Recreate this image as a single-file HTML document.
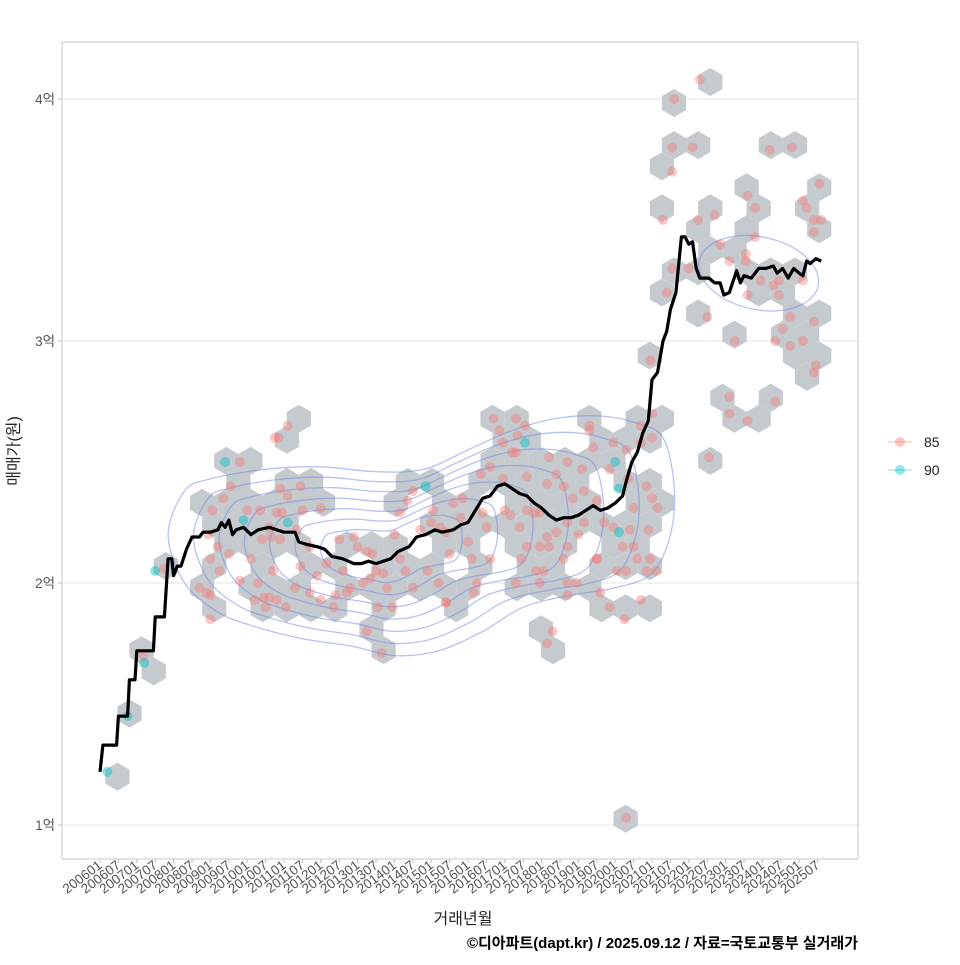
<!DOCTYPE html>
<html><head><meta charset="utf-8">
<style>
html,body{margin:0;padding:0;background:#fff;}
svg text{font-family:"Liberation Sans","Noto Sans CJK KR",sans-serif;}
</style></head>
<body>
<svg id="chart" width="960" height="960" xmlns="http://www.w3.org/2000/svg">
<rect x="0" y="0" width="960" height="960" fill="#fff"/>
<g id="grid"></g>
<g id="hexes"></g>
<g id="contours"></g>
<g id="points"></g>
<g id="line"></g>
<rect x="62" y="42" width="796" height="817" fill="none" stroke="#c8c8c8" stroke-width="1"/>
<g id="axes"></g>
<text transform="translate(19,451) rotate(-90)" text-anchor="middle" font-size="16" fill="#222">매매가(원)</text>
<text x="463" y="924" text-anchor="middle" font-size="16" fill="#222">거래년월</text>
<text x="858" y="948" text-anchor="end" font-size="15" font-weight="bold" fill="#000">©디아파트(dapt.kr) / 2025.09.12 / 자료=국토교통부 실거래가</text>
<g>
  <g>
    <line x1="888" y1="442" x2="912" y2="442" stroke="#F8766D" stroke-opacity="0.35" stroke-width="1.5"/>
    <circle cx="900" cy="442" r="5" fill="#F8766D" fill-opacity="0.4"/>
    <text x="924" y="447" font-size="14" fill="#222">85</text>
  </g>
  <g>
    <line x1="888" y1="470" x2="912" y2="470" stroke="#00BFC4" stroke-opacity="0.35" stroke-width="1.5"/>
    <circle cx="900" cy="470" r="5" fill="#00BFC4" fill-opacity="0.4"/>
    <text x="924" y="475" font-size="14" fill="#222">90</text>
  </g>
</g>
</svg>
<script>
// ---- data ----
const yTicks = [1,2,3,4];
const yTickLabels = ["1억","2억","3억","4억"];
const lineYears = [2006.0,2006.08,2006.45,2006.5,2006.75,2006.8,2006.95,2007.0,2007.45,2007.5,2007.75,2007.85,2007.95,2008.0,2008.1,2008.2,2008.35,2008.5,2008.7,2008.8,2009.0,2009.2,2009.3,2009.4,2009.5,2009.6,2009.7,2009.9,2010.1,2010.3,2010.6,2010.8,2011.0,2011.3,2011.4,2011.6,2011.9,2012.1,2012.3,2012.6,2012.9,2013.1,2013.3,2013.5,2013.7,2013.9,2014.1,2014.4,2014.6,2014.85,2015.1,2015.3,2015.6,2015.8,2016.0,2016.2,2016.4,2016.6,2016.8,2017.0,2017.2,2017.4,2017.6,2017.8,2018.0,2018.2,2018.4,2018.6,2018.8,2019.0,2019.2,2019.4,2019.6,2019.8,2020.0,2020.2,2020.3,2020.45,2020.6,2020.75,2020.9,2021.0,2021.15,2021.3,2021.4,2021.5,2021.65,2021.8,2021.9,2022.0,2022.1,2022.2,2022.3,2022.55,2022.7,2022.85,2022.95,2023.1,2023.3,2023.4,2023.5,2023.7,2023.9,2024.1,2024.3,2024.4,2024.55,2024.7,2024.85,2025.0,2025.1,2025.2,2025.3,2025.45,2025.6];
const lineValues = [1.22,1.33,1.33,1.45,1.45,1.6,1.6,1.72,1.72,1.86,1.86,2.1,2.1,2.03,2.07,2.07,2.14,2.19,2.19,2.21,2.21,2.22,2.25,2.23,2.26,2.2,2.22,2.23,2.2,2.22,2.23,2.22,2.21,2.21,2.17,2.16,2.15,2.14,2.11,2.1,2.08,2.08,2.09,2.08,2.09,2.1,2.13,2.15,2.19,2.2,2.22,2.21,2.22,2.24,2.25,2.3,2.35,2.36,2.4,2.41,2.39,2.37,2.36,2.33,2.31,2.28,2.26,2.27,2.27,2.28,2.3,2.32,2.3,2.31,2.33,2.36,2.42,2.5,2.54,2.62,2.67,2.84,2.87,3.0,3.04,3.13,3.2,3.43,3.43,3.4,3.41,3.3,3.26,3.26,3.24,3.24,3.19,3.2,3.29,3.24,3.27,3.26,3.3,3.3,3.31,3.28,3.3,3.26,3.3,3.28,3.27,3.33,3.32,3.34,3.33];
const tealYears = [2006.2,2006.75,2007.2,2007.5,2009.4,2009.9,2011.1,2014.85,2017.55,2020.0,2020.1,2020.1];
const tealValues = [1.22,1.45,1.67,2.05,2.5,2.26,2.25,2.4,2.58,2.5,2.39,2.21];
const salYears = [2007.17,2007.75,2008.7,2009.0,2009.8,2010.85,2011.1,2009.55,2009.35,2009.05,2009.0,2009.25,2008.9,2009.0,2010.35,
2010.9,2011.1,2011.45,2010.8,2010.95,2010.65,2010.9,2010.7,2010.45,2010.6,2011.05,2010.8,2010.5,2011.5,2012.0,2011.35,2011.7,2011.45,2011.7,2012.0,2012.35,2012.15,2012.5,2012.9,2012.6,2012.8,2013.15,2013.25,2013.4,2013.35,2013.7,2013.8,2013.55,2013.25,2013.65,2014.15,2014.5,2014.9,2014.35,2014.5,2015.05,2015.25,2014.15,2014.7,2015.4,2013.95,2012.7,
2010.1,2009.8,2009.5,2010.2,2010.4,2010.6,2010.75,
2016.85,2017.35,2017.55,2016.95,2017.3,2017.2,2016.6,2016.35,2016.95,2017.6,2018.15,2018.2,2018.7,2019.1,2019.3,2019.95,2020.3,2020.7,2021.0,2019.85,2020.35,2020.5,2020.85,2021.15,2019.95,2020.4,2020.2,2020.5,2020.95,2020.85,2020.05,2019.5,2019.15,2018.7,2018.6,2018.85,2019.15,2019.5,2017.95,2017.6,2017.15,2017.4,2017.8,2016.4,2016.5,2016.0,2015.6,2015.85,2015.8,2015.4,2015.5,2017.95,2018.2,2017.6,2017.45,2018.15,2018.4,2018.7,2018.6,2017.85,2018.05,2017.3,2017.95,2018.7,2018.95,2018.7,2016.15,2016.25,2015.4,2019.85,2020.25,2018.3,2018.15,2019.5,2020.3,2019.4,2020.7,2021.0,2016.7,2017.3,2020.3,2019.6,2019.3,
2021.6,2022.3,2021.55,2022.1,2021.55,2024.2,2024.8,2021.3,2022.25,2022.7,2023.6,2023.8,2025.55,2025.1,2025.2,2025.4,2025.6,2025.4,2022.85,2023.8,
2023.1,2023.55,2023.55,2023.95,2024.3,2024.45,2024.45,2023.6,2025.1,2022.5,2023.25,2024.75,2025.4,2024.55,2024.35,2024.75,2025.1,2025.45,2025.4,2023.1,2023.1,2023.6,2024.35,
2021.4,2020.95,2021.55,2022.0,2022.55,2021.0,2020.9,2021.1,2020.7,
2008.95,2009.2,2010.0,2010.3,2011.3,2011.9,2012.4,2013.0,2013.5,2014.0,2014.3,2015.0,2015.2,2016.1,2016.6,2017.0,2018.4,2019.0,2019.7,2020.6];
const salValues = [1.70,2.06,1.98,1.95,2.5,2.6,2.65,2.4,2.35,2.3,2.1,2.05,1.96,1.85,2.3,
2.39,2.36,2.4,2.29,2.29,2.19,2.18,2.05,1.94,1.94,1.9,1.93,1.9,2.3,2.31,2.22,2.15,2.07,1.96,1.93,1.9,2.08,2.18,2.19,2.05,1.98,2.0,2.13,2.12,2.02,2.04,1.98,1.9,1.8,1.71,2.1,1.98,2.05,2.34,2.38,2.3,2.23,2.29,2.22,1.92,1.9,1.96,
2.1,2.01,2.12,1.93,2.18,2.23,2.6,
2.63,2.61,2.65,2.58,2.54,2.54,2.48,2.45,2.43,2.44,2.41,2.52,2.5,2.47,2.63,2.58,2.55,2.65,2.6,2.47,2.43,2.31,2.4,2.31,2.23,2.22,2.15,2.15,2.1,2.05,2.05,2.1,2.25,2.25,2.4,2.35,2.38,2.34,2.29,2.3,2.28,2.23,2.29,2.29,2.23,2.17,2.33,2.35,2.27,2.21,2.12,2.15,2.15,2.15,2.1,2.19,2.21,2.15,2.1,2.05,2.05,2.0,2.0,2.0,2.0,1.95,1.96,2.0,1.92,1.9,1.85,1.8,1.75,2.1,2.05,2.56,2.58,2.7,2.68,2.68,1.03,1.96,2.65,
4.0,4.08,3.8,3.8,3.7,3.79,3.8,3.5,3.5,3.52,3.6,3.55,3.65,3.58,3.55,3.5,3.5,3.45,3.4,3.43,
3.33,3.36,3.33,3.25,3.23,3.25,3.19,3.19,3.25,3.1,3.0,3.1,3.08,3.05,3.0,2.98,3.0,2.9,2.87,2.77,2.7,2.67,2.75,
3.2,2.92,3.3,3.3,2.52,2.35,2.22,2.05,1.93,
2.2,2.15,2.3,2.0,1.98,2.03,1.95,2.15,2.05,2.2,2.05,2.25,2.0,2.1,2.1,2.3,2.45,2.2,2.25,2.1];
// outer density contour outline (year, value)
const contourYears = [2007.85,2008.3,2009.0,2010.5,2012.0,2013.5,2014.8,2016.0,2017.2,2018.4,2019.6,2020.6,2021.3,2021.6,2021.5,2021.0,2020.0,2018.8,2017.5,2016.4,2015.2,2014.0,2012.8,2011.5,2010.2,2009.2,2008.3];
const contourValues = [2.2,2.38,2.43,2.47,2.48,2.46,2.47,2.55,2.63,2.68,2.69,2.66,2.6,2.4,2.2,2.04,1.98,1.95,1.9,1.8,1.72,1.7,1.74,1.77,1.82,1.88,2.0];
const contourLevels = [1,0.88,0.76,0.64,0.52,0.4,0.28];
const contourCenterYear = 2013.6, contourCenterValue = 2.12;
// high-price cluster contour (ellipse parameters in data units)
const ring2Year = 2023.9, ring2Value = 3.28, ring2RadYears = 1.65, ring2RadValue = 0.15;

// ---- scales ----
const X0 = 100, PXY = 36.8, Y1 = 825, PXV = 242;
function xs(yr){ return X0 + (yr-2006)*PXY; }
function ys(v){ return Y1 - (v-1)*PXV; }
const NS = "http://www.w3.org/2000/svg";
function mk(tag, parent){ const e = document.createElementNS(NS, tag); parent.appendChild(e); return e; }

// grid + y axis
const grid = document.getElementById('grid');
const axes = document.getElementById('axes');
yTicks.forEach((t,i)=>{
  const y = ys(t);
  const g = mk('line', grid);
  
  
  g.setAttribute('x1',62); g.setAttribute('x2',858); g.setAttribute('y1',y); g.setAttribute('y2',y);
  g.setAttribute('stroke','#e6e6e6'); g.setAttribute('stroke-width','1');
  const tk = mk('line', axes);
  
  
  tk.setAttribute('x1',58); tk.setAttribute('x2',62); tk.setAttribute('y1',y); tk.setAttribute('y2',y);
  tk.setAttribute('stroke','#bbb');
  const tx = mk('text', axes);
  
  
  tx.setAttribute('x',55); tx.setAttribute('y',y+5); tx.setAttribute('text-anchor','end');
  tx.setAttribute('font-size','13.5'); tx.setAttribute('fill','#555');
  tx.textContent = yTickLabels[i];
});
// x ticks: every 6 months 2006-01 .. 2025-07
for(let k=0;k<40;k++){
  const yr = 2006 + k*0.5;
  const x = xs(yr);
  const lab = Math.floor(yr) + (k%2===0 ? "01" : "07");
  const tk = mk('line', axes);
  
  
  tk.setAttribute('x1',x); tk.setAttribute('x2',x); tk.setAttribute('y1',859); tk.setAttribute('y2',863);
  tk.setAttribute('stroke','#bbb');
  const tx = mk('text', axes);
  
  
  tx.setAttribute('transform','translate('+(x+3)+',867) rotate(-37)');
  tx.setAttribute('text-anchor','end');
  tx.setAttribute('font-size','13.5'); tx.setAttribute('fill','#555');
  tx.textContent = lab;
}

// hexbin from all points
const HW = 24.2, HR = HW/Math.sqrt(3), HDY = 21.05, HX0 = 674, HY0 = 103;
const allYears = salYears.concat(tealYears), allValues = salValues.concat(tealValues);
const bins = {};
allYears.forEach((yr,i)=>{
  const px = xs(yr), py = ys(allValues[i]);
  const j0 = Math.round((py-HY0)/HDY);
  let best=null, bd=1e9;
  for(let j=j0-1;j<=j0+1;j++){
    const off = (((j%2)+2)%2) ? -HW/2 : 0;
    const ii = Math.round((px-HX0-off)/HW);
    for(let i2=ii-1;i2<=ii+1;i2++){
      const cx = HX0+off+i2*HW, cy = HY0+j*HDY;
      const d = (cx-px)**2+(cy-py)**2;
      if(d<bd){bd=d;best=[cx,cy];}
    }
  }
  const key = best[0].toFixed(1)+','+best[1].toFixed(1);
  bins[key] = (bins[key]||0)+1;
});
const hexG = document.getElementById('hexes');
Object.keys(bins).forEach(k=>{
  const [cx,cy] = k.split(',').map(Number);
  let d='';
  for(let a=0;a<6;a++){
    const ang = Math.PI/180*(60*a-90);
    d += (a?'L':'M')+(cx+HR*Math.cos(ang)).toFixed(1)+' '+(cy+HR*Math.sin(ang)).toFixed(1);
  }
  const p = mk('path', hexG);
  
  
  p.setAttribute('d', d+'Z');
  p.setAttribute('fill', '#c5cacf');
});

// contours
const cg = document.getElementById('contours');
function smoothClosed(pts){
  const n = pts.length; let d = 'M'+pts[0][0].toFixed(1)+' '+pts[0][1].toFixed(1);
  for(let i=0;i<n;i++){
    const p0=pts[(i-1+n)%n], p1=pts[i], p2=pts[(i+1)%n], p3=pts[(i+2)%n];
    const c1=[p1[0]+(p2[0]-p0[0])/6, p1[1]+(p2[1]-p0[1])/6];
    const c2=[p2[0]-(p3[0]-p1[0])/6, p2[1]-(p3[1]-p1[1])/6];
    d+='C'+c1[0].toFixed(1)+' '+c1[1].toFixed(1)+' '+c2[0].toFixed(1)+' '+c2[1].toFixed(1)+' '+p2[0].toFixed(1)+' '+p2[1].toFixed(1);
  }
  return d+'Z';
}
const ccx = xs(contourCenterYear), ccy = ys(contourCenterValue);
contourLevels.forEach(s=>{
  const pts = contourYears.map((yr,i)=>[ccx+(xs(yr)-ccx)*s, ccy+(ys(contourValues[i])-ccy)*s]);
  const p = mk('path', cg);
  
  
  p.setAttribute('d', smoothClosed(pts));
  p.setAttribute('fill','none'); p.setAttribute('stroke','#6f86e6'); p.setAttribute('stroke-opacity','0.5'); p.setAttribute('stroke-width','1.3');
});
const e2 = mk('ellipse', cg);


e2.setAttribute('cx', xs(ring2Year)); e2.setAttribute('cy', ys(ring2Value));
e2.setAttribute('rx', ring2RadYears*PXY); e2.setAttribute('ry', ring2RadValue*PXV);
e2.setAttribute('transform','rotate(12 '+xs(ring2Year)+' '+ys(ring2Value)+')');
e2.setAttribute('fill','none'); e2.setAttribute('stroke','#6f86e6'); e2.setAttribute('stroke-opacity','0.5'); e2.setAttribute('stroke-width','1.3');

// points
const pg = document.getElementById('points');
salYears.forEach((yr,i)=>{
  const c = mk('circle', pg);
  
  
  c.setAttribute('cx', xs(yr)); c.setAttribute('cy', ys(salValues[i])); c.setAttribute('r', 5);
  c.setAttribute('fill','#F8766D'); c.setAttribute('fill-opacity','0.4');
});
tealYears.forEach((yr,i)=>{
  const c = mk('circle', pg);
  
  
  c.setAttribute('cx', xs(yr)); c.setAttribute('cy', ys(tealValues[i])); c.setAttribute('r', 5);
  c.setAttribute('fill','#00BFC4'); c.setAttribute('fill-opacity','0.45');
});

// median line
const lg = document.getElementById('line');
const pl = mk('polyline', lg);


pl.setAttribute('points', lineYears.map((yr,i)=>xs(yr).toFixed(1)+','+ys(lineValues[i]).toFixed(1)).join(' '));
pl.setAttribute('fill','none'); pl.setAttribute('stroke','#000'); pl.setAttribute('stroke-width','3.2'); pl.setAttribute('stroke-linejoin','round');
</script>
</body></html>
